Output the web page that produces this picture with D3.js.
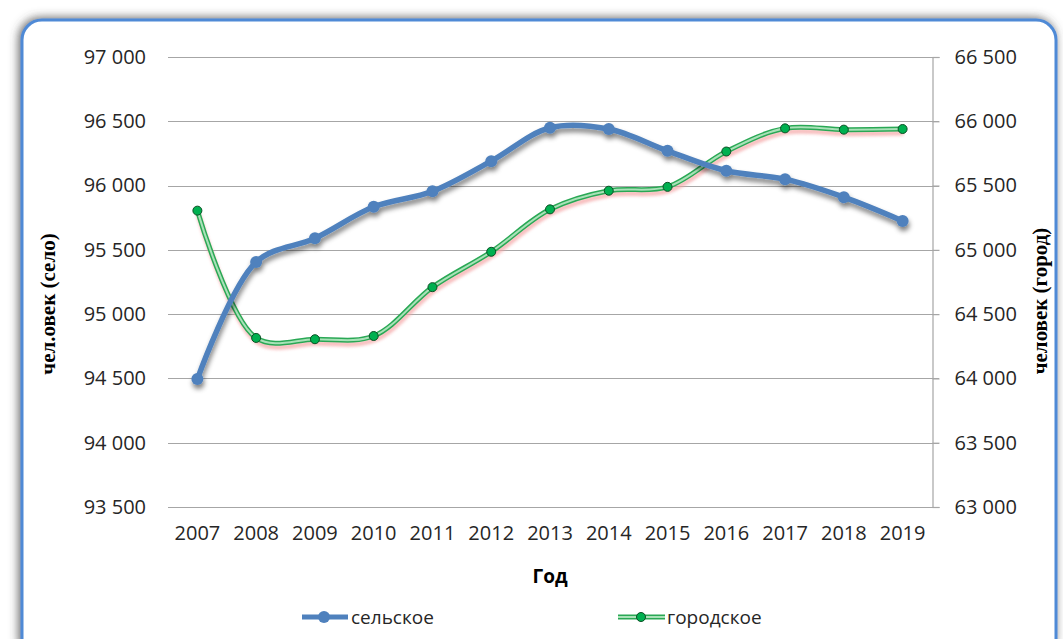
<!DOCTYPE html>
<html>
<head>
<meta charset="utf-8">
<script src="https://cdn.jsdelivr.net/npm/d3@7"></script>
<style>
  body { margin: 0; background: #fff; }
  svg { display: block; }
  .tick text { font-family: "Open Sans", sans-serif; font-size: 20px; fill: #262626; }
</style>
</head>
<body>
<div id="visHolder"></div>
<script>
let years = ["2007", "2008", "2009", "2010", "2011", "2012", "2013", "2014", "2015", "2016", "2017", "2018", "2019"];
let selo = [94495, 95405, 95590, 95835, 95955, 96190, 96450, 96440, 96270, 96115, 96050, 95910, 95725];
let gorod = [65305, 64315, 64305, 64330, 64710, 64985, 65315, 65460, 65490, 65765, 65945, 65935, 65940];
let leftTicks = [93500, 94000, 94500, 95000, 95500, 96000, 96500, 97000];
let rightTicks = [63000, 63500, 64000, 64500, 65000, 65500, 66000, 66500];

let width = 1063;
let height = 639;
let plot = { left: 168, right: 932, top: 57, bottom: 507 };

let svg = d3.select("#visHolder")
    .append("svg")
    .attr("width", width)
    .attr("height", height);

let defs = svg.append("defs");
let frameShadow = defs.append("filter").attr("id", "frameShadow")
    .attr("x", "-5%").attr("y", "-5%").attr("width", "110%").attr("height", "110%");
frameShadow.append("feGaussianBlur").attr("in", "SourceAlpha").attr("stdDeviation", 5);
frameShadow.append("feOffset").attr("dx", -2).attr("dy", -1).attr("result", "b");
frameShadow.append("feFlood").attr("flood-color", "#444").attr("flood-opacity", 0.8);
frameShadow.append("feComposite").attr("in2", "b").attr("operator", "in");
let m1 = frameShadow.append("feMerge");
m1.append("feMergeNode");
m1.append("feMergeNode").attr("in", "SourceGraphic");

let lineShadow = defs.append("filter").attr("id", "lineShadow")
    .attr("x", "-10%").attr("y", "-20%").attr("width", "120%").attr("height", "140%");
lineShadow.append("feGaussianBlur").attr("in", "SourceAlpha").attr("stdDeviation", 2.5);
lineShadow.append("feOffset").attr("dx", 1).attr("dy", 4).attr("result", "b");
lineShadow.append("feFlood").attr("flood-color", "#000").attr("flood-opacity", 0.5);
lineShadow.append("feComposite").attr("in2", "b").attr("operator", "in");
let m2 = lineShadow.append("feMerge");
m2.append("feMergeNode");
m2.append("feMergeNode").attr("in", "SourceGraphic");

let pinkBlur = defs.append("filter").attr("id", "pinkBlur")
    .attr("x", "-10%").attr("y", "-20%").attr("width", "120%").attr("height", "140%");
pinkBlur.append("feGaussianBlur").attr("stdDeviation", 1.8);

// frame
svg.append("rect")
    .attr("x", 22).attr("y", 20)
    .attr("width", 1034).attr("height", 640)
    .attr("rx", 20)
    .attr("fill", "#fff")
    .attr("stroke", "#4f8ad6")
    .attr("stroke-width", 3)
    .attr("filter", "url(#frameShadow)");

let x = d3.scaleBand().domain(years).range([plot.left, plot.right]);
let yLeft = d3.scaleLinear().domain([93500, 97000]).range([plot.bottom, plot.top]);
let yRight = d3.scaleLinear().domain([63000, 66500]).range([plot.bottom, plot.top]);

// grid
svg.append("g")
    .selectAll("line")
    .data(leftTicks)
    .enter()
    .append("line")
    .attr("x1", plot.left)
    .attr("x2", plot.right + 7)
    .attr("y1", d => Math.round(yLeft(d)) + 0.5)
    .attr("y2", d => Math.round(yLeft(d)) + 0.5)
    .attr("stroke", "#a6a6a6")
    .attr("stroke-width", 1.2);

let leftAxis = d3.axisLeft(yLeft)
    .tickValues(leftTicks)
    .tickSize(0)
    .tickPadding(22)
    .tickFormat(d => d3.format(",")(d).replace(",", " "));
svg.append("g")
    .attr("transform", `translate(${plot.left},0)`)
    .call(leftAxis)
    .call(g => g.select(".domain").remove());

let rightAxis = d3.axisRight(yRight)
    .tickValues(rightTicks)
    .tickSize(7)
    .tickPadding(15)
    .tickFormat(d => d3.format(",")(d).replace(",", " "));
svg.append("g")
    .attr("transform", `translate(${plot.right + 0.5},0)`)
    .call(rightAxis)
    .call(g => g.select(".domain").attr("stroke", "#a6a6a6").attr("stroke-width", 1.2))
    .call(g => g.selectAll(".tick line").attr("stroke", "#a6a6a6").attr("stroke-width", 1.2));

let xAxis = d3.axisBottom(x).tickSize(0).tickPadding(19);
svg.append("g")
    .attr("transform", `translate(0,${plot.bottom})`)
    .call(xAxis)
    .call(g => g.select(".domain").remove());

// titles
svg.append("text")
    .attr("transform", "translate(55,304) rotate(-90)")
    .attr("text-anchor", "middle")
    .style("font-family", "'Liberation Serif', 'Times New Roman', serif")
    .style("font-weight", "bold")
    .style("font-size", "21px")
    .attr("fill", "#000")
    .text("чел.овек (село)");

svg.append("text")
    .attr("transform", "translate(1047,301) rotate(-90)")
    .attr("text-anchor", "middle")
    .style("font-family", "'Liberation Serif', 'Times New Roman', serif")
    .style("font-weight", "bold")
    .style("font-size", "21px")
    .attr("fill", "#000")
    .text("человек (город)");

svg.append("text")
    .attr("x", 550)
    .attr("y", 583)
    .attr("text-anchor", "middle")
    .style("font-family", "'Open Sans', sans-serif")
    .style("font-weight", "bold")
    .style("font-size", "19px")
    .attr("fill", "#000")
    .text("Год");

let cx = d => x(d) + x.bandwidth() / 2;

// городское
let lineGorod = d3.line()
    .x((d, i) => cx(years[i]))
    .y(d => yRight(d))
    .curve(d3.curveCatmullRom.alpha(0.5));

svg.append("path")
    .datum(gorod)
    .attr("d", lineGorod)
    .attr("transform", "translate(1,4)")
    .attr("fill", "none")
    .attr("stroke", "#f4a3a3")
    .attr("stroke-width", 5)
    .attr("opacity", 0.7)
    .attr("filter", "url(#pinkBlur)");
svg.append("path")
    .datum(gorod)
    .attr("d", lineGorod)
    .attr("fill", "none")
    .attr("stroke", "#2aa855")
    .attr("stroke-width", 5);
svg.append("path")
    .datum(gorod)
    .attr("d", lineGorod)
    .attr("fill", "none")
    .attr("stroke", "#a9e2b8")
    .attr("stroke-width", 2);

svg.append("g")
    .selectAll("circle")
    .data(gorod)
    .enter()
    .append("circle")
    .attr("cx", (d, i) => cx(years[i]))
    .attr("cy", d => yRight(d))
    .attr("r", 4.5)
    .attr("fill", "#00b050")
    .attr("stroke", "#0b4f24")
    .attr("stroke-width", 1);

// сельское
let lineSelo = d3.line()
    .x((d, i) => cx(years[i]))
    .y(d => yLeft(d))
    .curve(d3.curveCatmullRom.alpha(0.5));

let seloG = svg.append("g").attr("filter", "url(#lineShadow)");
seloG.append("path")
    .datum(selo)
    .attr("d", lineSelo)
    .attr("fill", "none")
    .attr("stroke", "#4f81bd")
    .attr("stroke-width", 5.5)
    .attr("stroke-linecap", "round");
seloG.selectAll("circle")
    .data(selo)
    .enter()
    .append("circle")
    .attr("cx", (d, i) => cx(years[i]))
    .attr("cy", d => yLeft(d))
    .attr("r", 6)
    .attr("fill", "#4f81bd");

// legend
let legend = svg.append("g");
legend.append("line")
    .attr("x1", 302).attr("x2", 348).attr("y1", 617).attr("y2", 617)
    .attr("stroke", "#4f81bd").attr("stroke-width", 5);
legend.append("circle")
    .attr("cx", 324).attr("cy", 617).attr("r", 6).attr("fill", "#4f81bd");
legend.append("text")
    .attr("x", 351).attr("y", 624)
    .style("font-family", "'Open Sans', sans-serif")
    .style("font-size", "19px")
    .attr("fill", "#262626")
    .text("сельское");

legend.append("line")
    .attr("x1", 618).attr("x2", 665).attr("y1", 617).attr("y2", 617)
    .attr("stroke", "#2aa855").attr("stroke-width", 5);
legend.append("line")
    .attr("x1", 618).attr("x2", 665).attr("y1", 617).attr("y2", 617)
    .attr("stroke", "#a9e2b8").attr("stroke-width", 2);
legend.append("circle")
    .attr("cx", 641).attr("cy", 617).attr("r", 4.5)
    .attr("fill", "#00b050").attr("stroke", "#0b4f24").attr("stroke-width", 1);
legend.append("text")
    .attr("x", 667).attr("y", 624)
    .style("font-family", "'Open Sans', sans-serif")
    .style("font-size", "19px")
    .attr("fill", "#262626")
    .text("городское");
</script>
</body>
</html>
